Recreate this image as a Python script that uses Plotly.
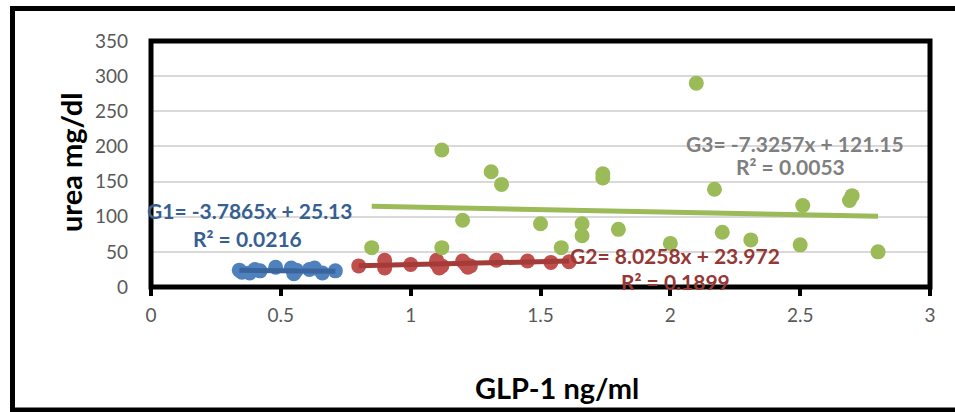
import numpy as np
import plotly.graph_objects as go

# GLP-1 (ng/ml) vs urea (mg/dl) for three groups
g1_glp = [0.34, 0.35, 0.38, 0.40, 0.42, 0.48, 0.54, 0.55, 0.56, 0.61, 0.63, 0.66, 0.71]
g1_urea = [24, 21, 20, 25, 23, 28, 27, 19, 24, 25, 27, 20, 23]

g2_glp = [0.80, 0.90, 0.90, 1.00, 1.10, 1.10, 1.11, 1.12, 1.20, 1.21, 1.22, 1.23,
          1.33, 1.45, 1.54, 1.61]
g2_urea = [30, 38, 27, 32, 38, 33, 27, 30, 37, 33, 28, 30, 38, 37, 35, 36]

g3_glp = [0.85, 1.12, 1.12, 1.20, 1.31, 1.35, 1.50, 1.58, 1.66, 1.66, 1.74, 1.74,
          1.80, 2.00, 2.10, 2.17, 2.20, 2.31, 2.50, 2.51, 2.69, 2.70, 2.80]
g3_urea = [56, 195, 56, 95, 164, 146, 90, 56, 90, 73, 161, 155,
           82, 62, 290, 139, 78, 67, 60, 116, 123, 130, 50]

# Linear trendline coefficients (slope, intercept) and R^2
g1_fit = (-3.7865, 25.13, 0.0216)
g2_fit = (8.0258, 23.972, 0.1899)
g3_fit = (-7.3257, 121.15, 0.0053)

x_ticks = [0, 0.5, 1, 1.5, 2, 2.5, 3]
x_tick_text = ["0", "0.5", "1", "1.5", "2", "2.5", "3"]
y_ticks = [0, 50, 100, 150, 200, 250, 300, 350]

FONT = "Lato"
W, H = 955, 412
ML, MR, MT, MB = 151, 25, 41, 125
PW, PH = W - ML - MR, H - MT - MB
X_MAX, Y_MAX = 3.0, 350.0


def dx(px):
    return (px - ML) / PW * X_MAX


def dy(py):
    return (MT + PH - py) / PH * Y_MAX


def paper_x(px):
    return (px - ML) / PW


def paper_y(py):
    return (MT + PH - py) / PH


groups = [
    (g1_glp, g1_urea, g1_fit, "#4F81BD", "#3A649C"),
    (g2_glp, g2_urea, g2_fit, "#C0504D", "#A33B39"),
    (g3_glp, g3_urea, g3_fit, "#9BBB59", "#9BBB59"),
]

fig = go.Figure()
for gx, gy, (m, b, _), mcol, lcol in groups:
    fig.add_trace(go.Scatter(
        x=gx, y=gy, mode="markers",
        marker=dict(size=15, color=mcol, line=dict(width=0)),
        showlegend=False, hoverinfo="skip",
    ))
for gx, gy, (m, b, _), mcol, lcol in groups:
    tx = np.array([min(gx), max(gx)])
    fig.add_trace(go.Scatter(
        x=tx, y=m * tx + b, mode="lines",
        line=dict(color=lcol, width=5),
        showlegend=False, hoverinfo="skip",
    ))


def eq_text(name, m, b):
    sign = "+" if b >= 0 else "-"
    return f"{name}= {m:g}x {sign} {abs(b):g}"


labels = [
    (eq_text("G1", g1_fit[0], g1_fit[1]), 249, 210, "#376092"),
    (f"R² = {g1_fit[2]:.4f}", 247, 238, "#376092"),
    (eq_text("G2", g2_fit[0], g2_fit[1]), 675, 255, "#953735"),
    (f"R² = {g2_fit[2]:.4f}", 675, 281, "#953735"),
    (eq_text("G3", g3_fit[0], g3_fit[1]), 795, 143, "#7F7F7F"),
    (f"R² = {g3_fit[2]:.4f}", 790, 166, "#7F7F7F"),
]
annotations = [
    dict(text=f"<b>{t}</b>", x=dx(px), y=dy(py), xref="x", yref="y",
         showarrow=False, xanchor="center", yanchor="middle",
         font=dict(family=FONT, size=21, color=c))
    for t, px, py, c in labels
]

# Axis titles
annotations += [
    dict(text="<b>GLP-1 ng/ml</b>", x=paper_x(557), y=paper_y(387),
         xref="paper", yref="paper", showarrow=False,
         xanchor="center", yanchor="middle",
         font=dict(family=FONT, size=29, color="black")),
    dict(text="<b>urea mg/dl</b>", x=paper_x(70), y=paper_y(163),
         xref="paper", yref="paper", showarrow=False, textangle=-90,
         xanchor="center", yanchor="middle",
         font=dict(family=FONT, size=29, color="black")),
]

shapes = [
    # outer chart border
    dict(type="rect", xref="paper", yref="paper",
         x0=paper_x(12.5), x1=paper_x(975), y0=paper_y(410), y1=paper_y(8.5),
         line=dict(color="black", width=5), layer="below"),
    # plot-area frame, centred on the plot edges
    dict(type="rect", xref="paper", yref="paper", x0=0, x1=1, y0=0, y1=1,
         line=dict(color="black", width=5), layer="above"),
]

fig.update_layout(
    width=W, height=H,
    margin=dict(l=ML, r=MR, t=MT, b=MB),
    paper_bgcolor="white", plot_bgcolor="white",
    font=dict(family=FONT, color="#595959"),
    annotations=annotations,
    shapes=shapes,
)
fig.update_xaxes(
    range=[0, X_MAX], tickvals=x_ticks, ticktext=x_tick_text,
    showgrid=False, zeroline=False, showline=False,
    ticks="outside", ticklen=8, tickwidth=4, tickcolor="black",
    ticklabelstandoff=3,
    tickfont=dict(family=FONT, size=19, color="#595959"),
)
fig.update_yaxes(
    range=[0, Y_MAX], tickvals=y_ticks,
    showgrid=True, gridcolor="#D9D9D9", gridwidth=1.5, zeroline=False,
    showline=False, ticks="", ticklabelstandoff=22,
    tickfont=dict(family=FONT, size=19, color="#595959"),
)

fig.write_html("out.html")
